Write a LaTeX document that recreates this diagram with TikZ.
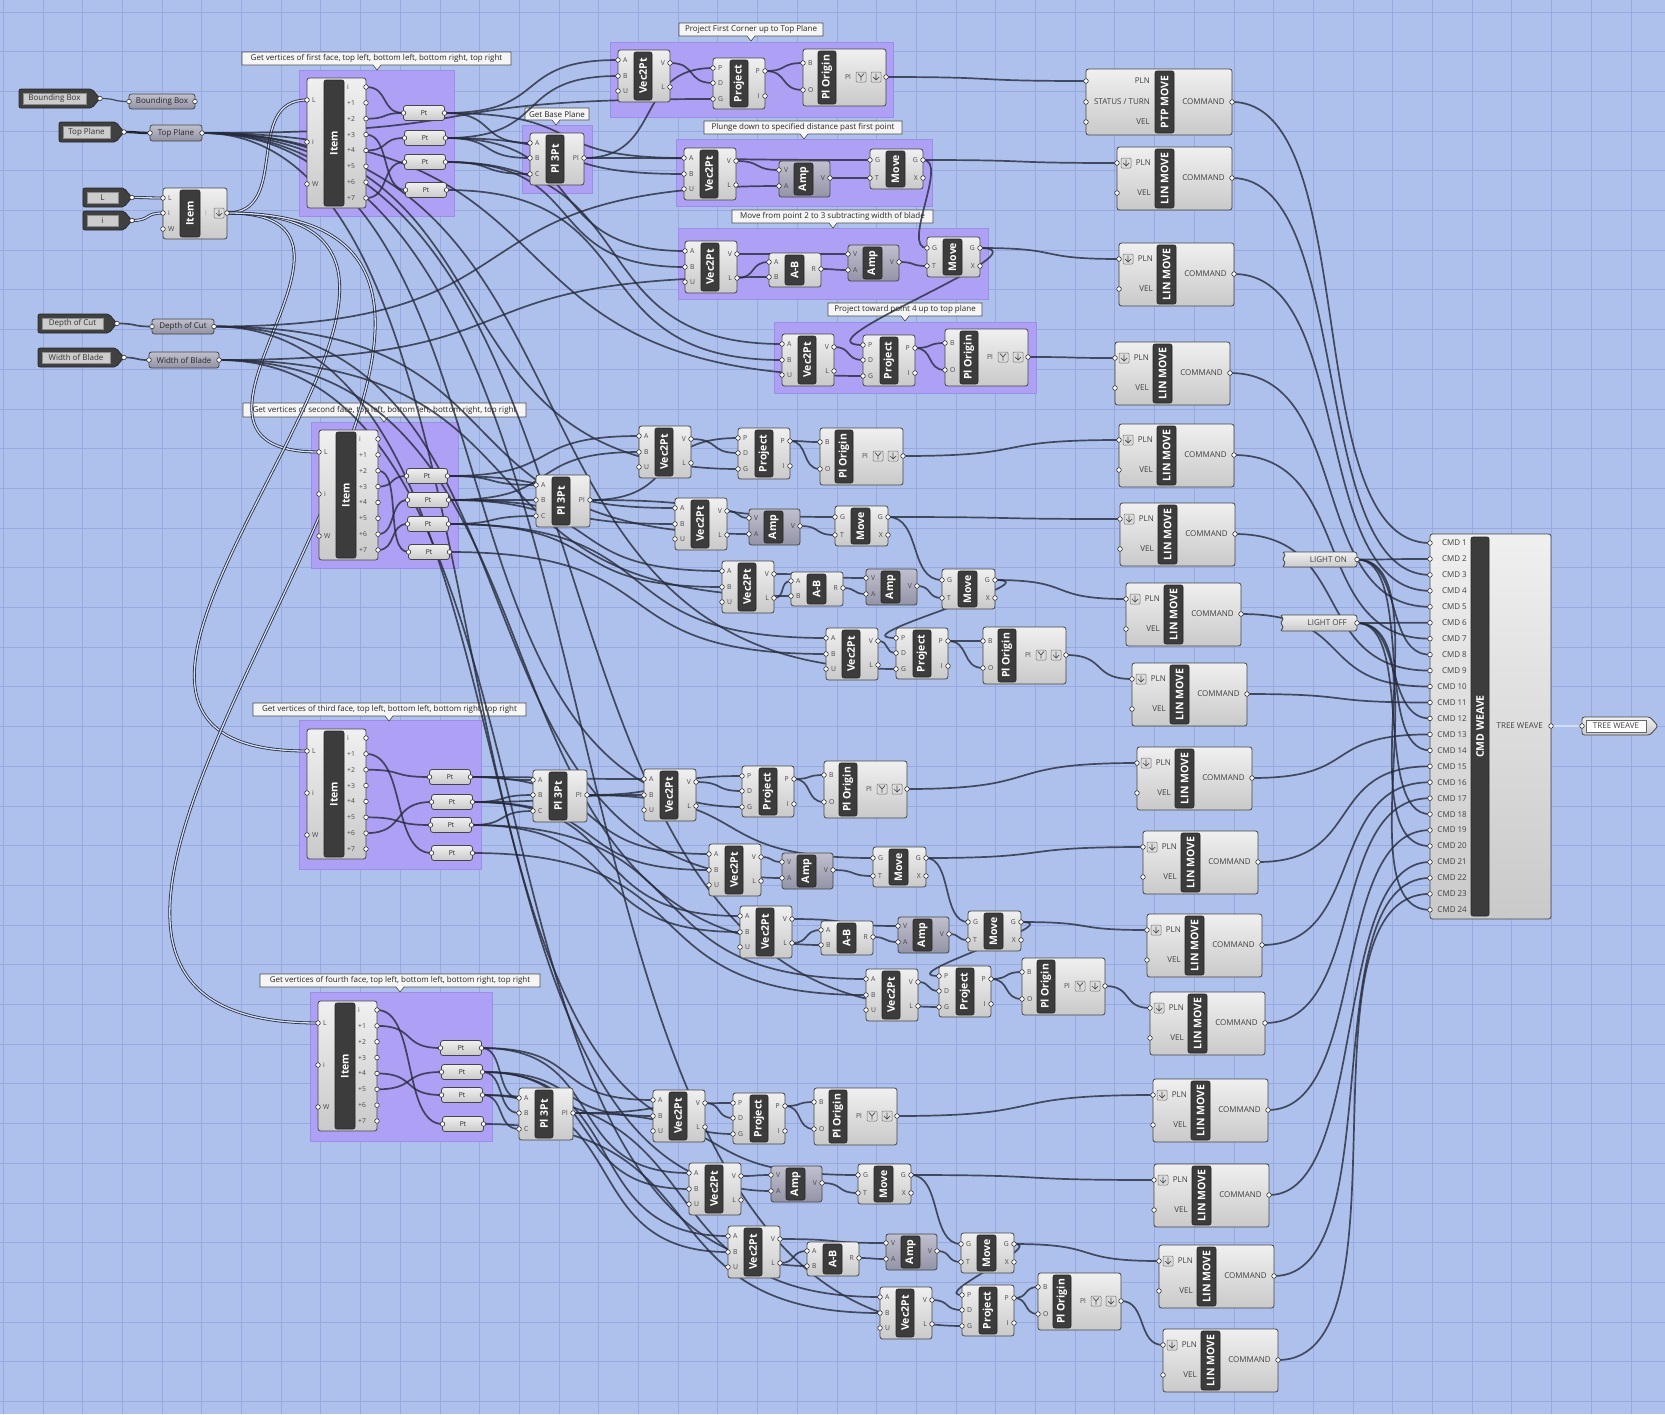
\documentclass[tikz,border=0pt]{standalone}
\usepackage{fontspec}
\setmainfont{Open Sans}
\usetikzlibrary{calc}
\pgfdeclarelayer{bg}
\pgfdeclarelayer{wires}
\pgfsetlayers{bg,wires,main}

\definecolor{canvas}{RGB}{174,193,236}
\definecolor{gridc}{RGB}{151,169,224}
\definecolor{grpfill}{RGB}{174,160,245}
\definecolor{grpdraw}{RGB}{155,142,230}
\definecolor{wirec}{RGB}{38,43,60}
\definecolor{compdraw}{RGB}{70,70,70}
\definecolor{bardark}{RGB}{60,60,60}
\definecolor{ampfill}{RGB}{164,164,186}
\definecolor{paramgrey}{RGB}{158,158,178}
\definecolor{paramdark}{RGB}{64,64,64}
\definecolor{tagfill}{RGB}{245,245,245}

\tikzset{
  gridline/.style={draw=gridc, line width=0.9pt},
  grp/.style={fill=grpfill, draw=grpdraw, line width=0.8pt},
  tagbox/.style={fill=tagfill, draw=black!70, line width=0.6pt},
  tagtext/.style={font=\fontsize{8}{9}\selectfont, text=black!85, inner sep=0pt},
  body/.style={draw=compdraw, line width=0.8pt, rounded corners=2.5pt, top color=white!94!black, bottom color=white!79!black, inner sep=0pt, outer sep=0pt},
  ampbody/.style={draw=compdraw, line width=0.8pt, rounded corners=2.5pt, top color=ampfill!70!white, bottom color=ampfill!90!black, inner sep=0pt, outer sep=0pt},
  greybody/.style={draw=compdraw, line width=0.8pt, rounded corners=2.5pt, top color=paramgrey!65!white, bottom color=paramgrey!92!black},
  darkbody/.style={fill=paramdark, draw=black!85, line width=0.7pt, rounded corners=2pt},
  darkinner/.style={fill=white!80!black, draw=black!45, line width=0.5pt},
  barstyle/.style={fill=bardark, draw=black!85, line width=0.6pt, rounded corners=2pt},
  bartext/.style={font=\bfseries\fontsize{10.5}{11}\selectfont, text=white, inner sep=0pt},
  plab/.style={font=\fontsize{6.8}{7}\selectfont, text=black!72, inner sep=0pt},
  caplab/.style={font=\fontsize{8}{9}\selectfont, text=black!75, inner sep=0pt},
  portc/.style={fill=white, draw=black!80, line width=0.6pt},
  iconbox/.style={fill=white!86!black, draw=black!55, line width=0.5pt, rounded corners=1pt},
  iconline/.style={draw=black!70, line width=0.7pt},
  wire/.style={draw=wirec, line width=1.7pt, draw opacity=0.8},
  listwire/.style={draw=wirec, line width=0.8pt, double=canvas!55!white, double distance=1.3pt},
}

% ---------- building blocks ----------
\newcommand{\ghbar}[6]{%
  \path[barstyle] (#1,#2) rectangle ++(#3,#4);
  \node[bartext, rotate=90] (#6-title) at (#1+#3/2,#2+#4/2) {#5};}
\newcommand{\ghin}[4]{%
  \coordinate (#1) at (#2,#3);
  \node[plab, anchor=west] (#1-lab) at (#2+5,#3) {#4};
  \path[portc] (#2,#3) circle (2.3pt);}
\newcommand{\ghout}[4]{%
  \coordinate (#1) at (#2,#3);
  \node[plab, anchor=east] (#1-lab) at (#2-5,#3) {#4};
  \path[portc] (#2,#3) circle (2.3pt);}
\newcommand{\ghflat}[2]{%
  \path[iconbox] (#1-5,#2-5) rectangle (#1+5,#2+5);
  \draw[iconline] (#1,#2-3.5) -- (#1,#2+3) (#1-3,#2) -- (#1,#2+3) -- (#1+3,#2);}
\newcommand{\ghgraft}[2]{%
  \path[iconbox] (#1-5,#2-5) rectangle (#1+5,#2+5);
  \draw[iconline] (#1-3,#2-3.5) -- (#1,#2) -- (#1+3,#2-3.5) (#1,#2) -- (#1,#2+3.5);}

% ---------- components ----------
\newcommand{\ghvec}[3]{%
  \node[body, anchor=north west, minimum width=52pt, minimum height=52pt] (#1) at (#2,#3) {};
  \ghbar{#2+16}{#3+2}{18}{48}{Vec2Pt}{#1}%
  \ghin{#1-A}{#2}{#3+10}{A}\ghin{#1-B}{#2}{#3+26}{B}\ghin{#1-U}{#2}{#3+41}{U}%
  \ghout{#1-V}{#2+52}{#3+13}{V}\ghout{#1-L}{#2+52}{#3+37}{L}}
\newcommand{\ghproj}[3]{%
  \node[body, anchor=north west, minimum width=52pt, minimum height=51pt] (#1) at (#2,#3) {};
  \ghbar{#2+17}{#3+2}{18}{47}{Project}{#1}%
  \ghin{#1-P}{#2}{#3+10}{P}\ghin{#1-D}{#2}{#3+25}{D}\ghin{#1-G}{#2}{#3+41}{G}%
  \ghout{#1-Po}{#2+52}{#3+13}{P}\ghout{#1-I}{#2+52}{#3+38}{I}}
\newcommand{\ghorig}[3]{%
  \node[body, anchor=north west, minimum width=83pt, minimum height=57pt] (#1) at (#2,#3) {};
  \ghbar{#2+15}{#3+2}{18}{53}{Pl Origin}{#1}%
  \ghin{#1-B}{#2}{#3+14}{B}\ghin{#1-O}{#2}{#3+41}{O}%
  \coordinate (#1-Pl) at (#2+83,#3+28);
  \node[plab] (#1-pllab) at (#2+45,#3+28) {Pl};
  \ghgraft{#2+58}{#3+28}\ghflat{#2+73}{#3+28}%
  \path[portc] (#1-Pl) circle (2.3pt);}
\newcommand{\ghamp}[3]{%
  \node[ampbody, anchor=north west, minimum width=51pt, minimum height=36pt] (#1) at (#2,#3) {};
  \ghbar{#2+15}{#3+2}{19}{32}{Amp}{#1}%
  \ghin{#1-V}{#2}{#3+9}{V}\ghin{#1-A}{#2}{#3+25}{A}%
  \ghout{#1-Vo}{#2+51}{#3+17}{V}}
\newcommand{\ghmove}[3]{%
  \node[body, anchor=north west, minimum width=53pt, minimum height=40pt] (#1) at (#2,#3) {};
  \ghbar{#2+16}{#3+2}{19}{36}{Move}{#1}%
  \ghin{#1-G}{#2}{#3+11}{G}\ghin{#1-T}{#2}{#3+29}{T}%
  \ghout{#1-Go}{#2+53}{#3+11}{G}\ghout{#1-X}{#2+53}{#3+29}{X}}
\newcommand{\ghamb}[3]{%
  \node[body, anchor=north west, minimum width=52pt, minimum height=34pt] (#1) at (#2,#3) {};
  \ghbar{#2+16}{#3+2}{19}{30}{A-B}{#1}%
  \ghin{#1-A}{#2}{#3+9}{A}\ghin{#1-B}{#2}{#3+24}{B}%
  \ghout{#1-R}{#2+52}{#3+16}{R}}
\newcommand{\ghplane}[3]{%
  \node[body, anchor=north west, minimum width=54pt, minimum height=52pt] (#1) at (#2,#3) {};
  \ghbar{#2+16}{#3+2}{18}{48}{Pl 3Pt}{#1}%
  \ghin{#1-A}{#2}{#3+10}{A}\ghin{#1-B}{#2}{#3+25}{B}\ghin{#1-C}{#2}{#3+41}{C}%
  \ghout{#1-Pl}{#2+54}{#3+25}{Pl}}
\newcommand{\ghitem}[3]{%
  \node[body, anchor=north west, minimum width=59pt, minimum height=130pt] (#1) at (#2,#3) {};
  \ghbar{#2+17}{#3+2}{20}{126}{Item}{#1}%
  \ghin{#1-L}{#2}{#3+22}{L}\ghin{#1-i}{#2}{#3+64}{i}\ghin{#1-W}{#2}{#3+106}{W}%
  \foreach \k/\lbl in {0/i,1/+1,2/+2,3/+3,4/+4,5/+5,6/+6,7/+7}{%
    \coordinate (#1-o\k) at (#2+59,#3+9+15.86*\k);
    \node[plab, anchor=west] (#1-o\k-lab) at (#2+40,#3+9+15.86*\k) {\lbl};
    \path[portc] (#1-o\k) circle (2.3pt);}}
\newcommand{\ghitems}[3]{%
  \node[body, anchor=north west, minimum width=64pt, minimum height=51pt] (#1) at (#2,#3) {};
  \ghbar{#2+17}{#3+2}{20}{47}{Item}{#1}%
  \ghin{#1-L}{#2}{#3+10}{L}\ghin{#1-i}{#2}{#3+25}{i}\ghin{#1-W}{#2}{#3+41}{W}%
  \coordinate (#1-o) at (#2+64,#3+25);
  \node[plab, text=black!40] (#1-olab) at (#2+43,#3+25) {i};
  \ghflat{#2+56}{#3+25}%
  \path[portc] (#1-o) circle (2.3pt);}
\newcommand{\ghlin}[3]{%
  \node[body, anchor=north west, minimum width=115pt, minimum height=63pt] (#1) at (#2,#3) {};
  \ghbar{#2+38}{#3+2}{19}{59}{LIN MOVE}{#1}%
  \coordinate (#1-PLN) at (#2,#3+16);
  \coordinate (#1-VEL) at (#2,#3+46);
  \coordinate (#1-CMD) at (#2+115,#3+31);
  \node[caplab, anchor=east] (#1-l1) at (#2+34,#3+16) {PLN};
  \node[caplab, anchor=east] (#1-l2) at (#2+34,#3+46) {VEL};
  \node[caplab, anchor=east] (#1-l3) at (#2+108,#3+31) {COMMAND};
  \ghflat{#2+9}{#3+16}%
  \path[portc] (#1-PLN) circle (2.3pt) (#1-VEL) circle (2.3pt) (#1-CMD) circle (2.3pt);}
\newcommand{\ghptp}[3]{%
  \node[body, anchor=north west, minimum width=146pt, minimum height=66pt] (#1) at (#2,#3) {};
  \ghbar{#2+69}{#3+2}{19}{62}{PTP MOVE}{#1}%
  \coordinate (#1-PLN) at (#2,#3+12);
  \coordinate (#1-ST) at (#2,#3+33);
  \coordinate (#1-VEL) at (#2,#3+53);
  \coordinate (#1-CMD) at (#2+146,#3+33);
  \node[caplab, anchor=east] (#1-l1) at (#2+64,#3+12) {PLN};
  \node[caplab, anchor=east] (#1-l2) at (#2+64,#3+33) {STATUS / TURN};
  \node[caplab, anchor=east] (#1-l3) at (#2+64,#3+53) {VEL};
  \node[caplab, anchor=east] (#1-l4) at (#2+139,#3+33) {COMMAND};
  \path[portc] (#1-PLN) circle (2.3pt) (#1-ST) circle (2.3pt) (#1-VEL) circle (2.3pt) (#1-CMD) circle (2.3pt);}

% ---------- parameters ----------
\newcommand{\ghdark}[6]{%
  \path[darkbody] (#2,#3) -- (#4-8,#3) -- (#4,#3/2+#5/2) -- (#4-8,#5) -- (#2,#5) -- cycle;
  \path[darkinner] (#2+4,#3+4) rectangle (#4-14,#5-4);
  \node[caplab, text=black!80] (#1) at ({(#2+#4-10)/2},{(#3+#5)/2}) {#6};
  \coordinate (#1-o) at (#4,{(#3+#5)/2});
  \path[portc] (#1-o) circle (2.3pt);}
\newcommand{\ghgrey}[6]{%
  \path[greybody] (#2,#3) rectangle (#4,#5);
  \node[caplab, text=black!85] (#1) at ({(#2+#4)/2},{(#3+#5)/2}) {#6};
  \coordinate (#1-i) at (#2,{(#3+#5)/2});
  \coordinate (#1-o) at (#4,{(#3+#5)/2});
  \path[portc] (#1-i) circle (2.3pt) (#1-o) circle (2.3pt);}
\newcommand{\ghpt}[3]{%
  \path[body] (#2-20.5,#3-7.5) rectangle (#2+20.5,#3+7.5);
  \node[plab, text=black!85] (#1) at (#2,#3) {Pt};
  \coordinate (#1-i) at (#2-20.5,#3);
  \coordinate (#1-o) at (#2+20.5,#3);
  \path[portc] (#1-i) circle (2.3pt) (#1-o) circle (2.3pt);}
\newcommand{\ghlight}[6]{%
  \path[body] (#2,#3) -- (#4,#3) -- (#4,#5) -- (#2,#5) -- (#2+4,#5-4) -- (#2,#5-8) -- (#2+4,#5-12) -- cycle;
  \node[caplab, anchor=east] (#1) at (#4-10,{(#3+#5)/2}) {#6};
  \coordinate (#1-o) at (#4,{(#3+#5)/2});
  \path[portc] (#1-o) circle (2.3pt);}
\newcommand{\ghoutparam}[6]{%
  \path[body] (#2,#3) -- (#4-8,#3) -- (#4,#3/2+#5/2) -- (#4-8,#5) -- (#2,#5) -- cycle;
  \path[fill=white, draw=black!60, line width=0.5pt] (#2+4,#3+3) rectangle (#4-12,#5-3);
  \node[caplab] (#1) at ({(#2+#4-8)/2},{(#3+#5)/2}) {#6};
  \coordinate (#1-i) at (#2,{(#3+#5)/2});
  \path[portc] (#1-i) circle (2.3pt);}
\newcommand{\ghtag}[7]{%
  \path[tagbox] (#2,#3) -- (#4,#3) -- (#4,#5) -- (#6+4,#5) -- (#6,#5+5) -- (#6-4,#5) -- (#2,#5) -- cycle;
  \node[tagtext] (#1) at ({(#2+#4)/2},{(#3+#5)/2}) {#7};}

% ---------- connectors: horizontal-tangent curves ----------
\newcommand{\wire}[3][]{\draw[wire,#1] let \p1=(#2), \p2=(#3),
  \n1={max(0.62*abs(\x2-\x1),0.3*abs(\y2-\y1),12pt)} in
  (\p1) .. controls +(\n1,0) and +(-\n1,0) .. (\p2);}
\newcommand{\lwire}[3]{\draw[listwire] let \p1=(#1), \p2=(#2),
  \n1={#3*max(0.62*abs(\x2-\x1),0.3*abs(\y2-\y1),12pt)} in
  (\p1) .. controls +(\n1,0) and +(-\n1,0) .. (\p2);}
\newcommand{\secwires}[1]{%
  \wire{#1pt1-o}{#1pl-A}\wire{#1pt2-o}{#1pl-B}\wire{#1pt3-o}{#1pl-C}%
  \wire{#1pt1-o}{#1va-A}\wire{#1pt2-o}{#1va-B}\wire{#1pl-Pl}{#1pja-P}\wire{#1va-V}{#1pja-D}%
  \wire{#1pja-Po}{#1oa-B}\wire{#1pja-Po}{#1oa-O}%
  \wire{#1pt1-o}{#1vb-A}\wire{#1pt2-o}{#1vb-B}\wire{#1vb-V}{#1ampb-V}\wire{#1ampb-Vo}{#1mvb-T}\wire{#1pl-Pl}{#1mvb-G}%
  \wire{#1pt2-o}{#1vc-A}\wire{#1pt3-o}{#1vc-B}\wire{#1vc-V}{#1ampc-V}\wire{#1vc-L}{#1ab-A}%
  \wire{#1ab-R}{#1ampc-A}\wire{#1ampc-Vo}{#1mvc-T}\wire{#1mvb-Go}{#1mvc-G}%
  \wire{#1pt3-o}{#1vd-A}\wire{#1pt4-o}{#1vd-B}\wire{#1vd-V}{#1pjd-D}\wire{#1mvc-Go}{#1pjd-P}%
  \wire{#1pjd-Po}{#1od-B}\wire{#1pjd-Po}{#1od-O}%
  \wire{tpg-o}{#1pja-G}\wire{tpg-o}{#1pjd-G}\wire{dcg-o}{#1ampb-A}\wire{wbg-o}{#1ab-B}}

\begin{document}
\begin{tikzpicture}[x=1pt,y=-1pt]
\useasboundingbox (0,0) rectangle (1665,1414);

\begin{pgfonlayer}{bg}
  \fill[canvas] (0,0) rectangle (1665,1414);
  \foreach \i in {0,...,41} \draw[gridline] (3.3+39.7*\i,0) -- (3.3+39.7*\i,1414);
  \foreach \j in {0,...,35} \draw[gridline] (0,12+39.7*\j) -- (1665,12+39.7*\j);
  % groups
  \path[grp] (299,70) rectangle (454,216);
  \path[grp] (522,125) rectangle (592,193);
  \path[grp] (610,42) rectangle (893,117);
  \path[grp] (676,139) rectangle (932,206);
  \path[grp] (678,228) rectangle (988,299);
  \path[grp] (774,322) rectangle (1036,393);
  \path[grp] (311,422) rectangle (458,568);
  \path[grp] (299,720) rectangle (481,869);
  \path[grp] (310,992) rectangle (492,1141);
  % group captions
  \ghtag{tag1}{242}{52}{511}{65}{377}{Get vertices of first face, top left, bottom left, bottom right, top right}
  \ghtag{tagbp}{525}{108}{589}{120}{556}{Get Base Plane}
  \ghtag{tagga}{679}{23}{823}{36}{751}{Project First Corner up to Top Plane}
  \ghtag{taggb}{704}{121}{902}{134}{804}{Plunge down to specified distance past first point}
  \ghtag{taggc}{732}{210}{933}{223}{833}{Move from point 2 to 3 subtracting width of blade}
  \ghtag{taggd}{828}{303}{982}{316}{905}{Project toward point 4 up to top plane}
  \ghtag{tag2}{243}{403}{526}{417}{384}{Get vertices of second face, top left, bottom left, bottom right, top right}
  \ghtag{tag3}{253}{703}{526}{716}{389}{Get vertices of third face, top left, bottom left, bottom right, top right}
  \ghtag{tag4}{260}{974}{540}{987}{400}{Get vertices of fourth face, top left, bottom left, bottom right, top right}
\end{pgfonlayer}

% ---------- inputs ----------
\ghdark{bbd}{19}{89}{100}{108}{Bounding Box}
\ghgrey{bbg}{129}{94}{195}{109}{Bounding Box}
\ghdark{tpd}{59}{122}{124}{142}{Top Plane}
\ghgrey{tpg}{150}{125}{202}{141}{Top Plane}
\ghdark{ld}{83}{188}{132}{207}{L}
\ghdark{id}{83}{211}{132}{230}{i}
\ghitems{its}{163}{188}
\ghdark{dcd}{38}{314}{117}{333}{Depth of Cut}
\ghgrey{dcg}{152}{319}{214}{334}{Depth of Cut}
\ghdark{wbd}{38}{348}{124}{367}{Width of Blade}
\ghgrey{wbg}{149}{352}{219}{368}{Width of Blade}

% ---------- face 1 ----------
\ghitem{s1it}{307}{78}
\ghpt{s1pt1}{424}{113}\ghpt{s1pt2}{425}{138}\ghpt{s1pt3}{425}{162}\ghpt{s1pt4}{426}{190}
\ghplane{s1pl}{530}{133}
\ghvec{s1va}{618}{50}\ghproj{s1pja}{713}{58}\ghorig{s1oa}{803}{49}
\ghvec{s1vb}{684}{148}\ghamp{s1ampb}{779}{161}\ghmove{s1mvb}{870}{149}
\ghvec{s1vc}{685}{241}\ghamb{s1ab}{769}{253}\ghamp{s1ampc}{848}{245}\ghmove{s1mvc}{927}{237}
\ghvec{s1vd}{782}{334}\ghproj{s1pjd}{863}{335}\ghorig{s1od}{945}{329}

% ---------- face 2 ----------
\ghitem{s2it}{319}{430}
\ghpt{s2pt1}{427}{476}\ghpt{s2pt2}{428}{500}\ghpt{s2pt3}{428}{524}\ghpt{s2pt4}{429}{552}
\ghplane{s2pl}{536}{475}
\ghvec{s2va}{639}{426}\ghproj{s2pja}{738}{428}\ghorig{s2oa}{820}{428}
\ghvec{s2vb}{675}{498}\ghamp{s2ampb}{749}{509}\ghmove{s2mvb}{835}{506}
\ghvec{s2vc}{722}{561}\ghamb{s2ab}{791}{572}\ghamp{s2ampc}{866}{569}\ghmove{s2mvc}{942}{569}
\ghvec{s2vd}{826}{628}\ghproj{s2pjd}{896}{628}\ghorig{s2od}{983}{627}

% ---------- face 3 ----------
\ghitem{s3it}{307}{729}
\ghpt{s3pt1}{450}{777}\ghpt{s3pt2}{452}{802}\ghpt{s3pt3}{451}{825}\ghpt{s3pt4}{452}{853}
\ghplane{s3pl}{533}{770}
\ghvec{s3va}{644}{769}\ghproj{s3pja}{742}{766}\ghorig{s3oa}{824}{761}
\ghvec{s3vb}{709}{844}\ghamp{s3ampb}{782}{853}\ghmove{s3mvb}{873}{847}
\ghvec{s3vc}{740}{906}\ghamb{s3ab}{821}{921}\ghamp{s3ampc}{898}{917}\ghmove{s3mvc}{968}{911}
\ghvec{s3vd}{866}{969}\ghproj{s3pjd}{939}{966}\ghorig{s3od}{1022}{958}

% ---------- face 4 ----------
\ghitem{s4it}{318}{1001}
\ghpt{s4pt1}{461}{1048}\ghpt{s4pt2}{462}{1072}\ghpt{s4pt3}{462}{1095}\ghpt{s4pt4}{463}{1124}
\ghplane{s4pl}{519}{1088}
\ghvec{s4va}{653}{1090}\ghproj{s4pja}{733}{1093}\ghorig{s4oa}{814}{1088}
\ghvec{s4vb}{689}{1163}\ghamp{s4ampb}{771}{1166}\ghmove{s4mvb}{858}{1164}
\ghvec{s4vc}{728}{1226}\ghamb{s4ab}{807}{1242}\ghamp{s4ampc}{886}{1234}\ghmove{s4mvc}{961}{1233}
\ghvec{s4vd}{880}{1287}\ghproj{s4pjd}{962}{1285}\ghorig{s4od}{1038}{1273}

% ---------- robot moves ----------
\ghptp{ptp}{1086}{69}
\ghlin{lm1}{1117}{147}
\ghlin{lm2}{1119}{243}
\ghlin{lm3}{1115}{342}
\ghlin{lm4}{1119}{424}
\ghlin{lm5}{1120}{503}
\ghlin{lm6}{1126}{583}
\ghlin{lm7}{1132}{663}
\ghlin{lm8}{1137}{747}
\ghlin{lm9}{1143}{831}
\ghlin{lm10}{1147}{914}
\ghlin{lm11}{1150}{992}
\ghlin{lm12}{1153}{1079}
\ghlin{lm13}{1154}{1164}
\ghlin{lm14}{1159}{1245}
\ghlin{lm15}{1163}{1329}

\ghlight{lon}{1282}{552}{1357}{567}{LIGHT ON}
\ghlight{loff}{1280}{615}{1357}{631}{LIGHT OFF}

% ---------- command weave ----------
\node[body, anchor=north west, minimum width=121pt, minimum height=385pt] (cw) at (1430,534) {};
\ghbar{1471}{537}{18}{379}{CMD WEAVE}{cw}
\foreach \k in {1,...,24}{%
  \coordinate (cw-\k) at (1430,543+15.95*\k-15.95);
  \node[caplab, anchor=east] (cw-\k-lab) at (1467,543+15.95*\k-15.95) {CMD \k};
  \path[portc] (cw-\k) circle (2.3pt);}
\coordinate (cw-out) at (1551,726);
\node[caplab, anchor=east] (cw-outlab) at (1543,726) {TREE WEAVE};
\path[portc] (cw-out) circle (2.3pt);
\ghoutparam{tw}{1582}{717}{1658}{735}{TREE WEAVE}

% ---------- wires ----------
\begin{pgfonlayer}{wires}
  \wire[line width=1.2pt]{bbd-o}{bbg-i}
  \wire[line width=2.4pt, draw=black]{tpd-o}{tpg-i}
  \lwire{ld-o}{its-L}{1}\lwire{id-o}{its-i}{1}
  \wire{dcd-o}{dcg-i}\wire{wbd-o}{wbg-i}
  \lwire{its-o}{s1it-L}{1.3}\lwire{its-o}{s2it-L}{2.6}\lwire{its-o}{s3it-L}{2.2}\lwire{its-o}{s4it-L}{1.95}

  \wire{s1it-o0}{s1pt1-i}\wire{s1it-o2}{s1pt1-i}\wire{s1it-o4}{s1pt2-i}\wire{s1it-o7}{s1pt3-i}\wire{s1it-o3}{s1pt4-i}
  \wire{s2it-o3}{s2pt1-i}\wire{s2it-o6}{s2pt2-i}\wire{s2it-o7}{s2pt3-i}\wire{s2it-o2}{s2pt4-i}
  \wire{s3it-o2}{s3pt1-i}\wire{s3it-o6}{s3pt2-i}\wire{s3it-o5}{s3pt3-i}\wire{s3it-o1}{s3pt4-i}
  \wire{s4it-o1}{s4pt1-i}\wire{s4it-o5}{s4pt2-i}\wire{s4it-o4}{s4pt3-i}\wire{s4it-o0}{s4pt4-i}

  \secwires{s1}
  \secwires{s2}
  \secwires{s3}
  \secwires{s4}

  \wire{s1oa-Pl}{ptp-PLN}\wire{s1mvb-Go}{lm1-PLN}\wire{s1mvc-Go}{lm2-PLN}\wire{s1od-Pl}{lm3-PLN}
  \wire{s2oa-Pl}{lm4-PLN}\wire{s2mvb-Go}{lm5-PLN}\wire{s2mvc-Go}{lm6-PLN}\wire{s2od-Pl}{lm7-PLN}
  \wire{s3oa-Pl}{lm8-PLN}\wire{s3mvb-Go}{lm9-PLN}\wire{s3mvc-Go}{lm10-PLN}\wire{s3od-Pl}{lm11-PLN}
  \wire{s4oa-Pl}{lm12-PLN}\wire{s4mvb-Go}{lm13-PLN}\wire{s4mvc-Go}{lm14-PLN}\wire{s4od-Pl}{lm15-PLN}

  \wire{ptp-CMD}{cw-1}\wire{lm1-CMD}{cw-3}\wire{lm2-CMD}{cw-4}\wire{lm3-CMD}{cw-5}
  \wire{lm4-CMD}{cw-7}\wire{lm5-CMD}{cw-9}\wire{lm6-CMD}{cw-10}\wire{lm7-CMD}{cw-11}
  \wire{lm8-CMD}{cw-13}\wire{lm9-CMD}{cw-15}\wire{lm10-CMD}{cw-16}\wire{lm11-CMD}{cw-17}
  \wire{lm12-CMD}{cw-19}\wire{lm13-CMD}{cw-21}\wire{lm14-CMD}{cw-22}\wire{lm15-CMD}{cw-23}
  \wire{lon-o}{cw-2}\wire{lon-o}{cw-8}\wire{lon-o}{cw-14}\wire{lon-o}{cw-20}
  \wire{loff-o}{cw-6}\wire{loff-o}{cw-12}\wire{loff-o}{cw-18}\wire{loff-o}{cw-24}
  \lwire{cw-out}{tw-i}{1}
\end{pgfonlayer}
\end{tikzpicture}
\end{document}
